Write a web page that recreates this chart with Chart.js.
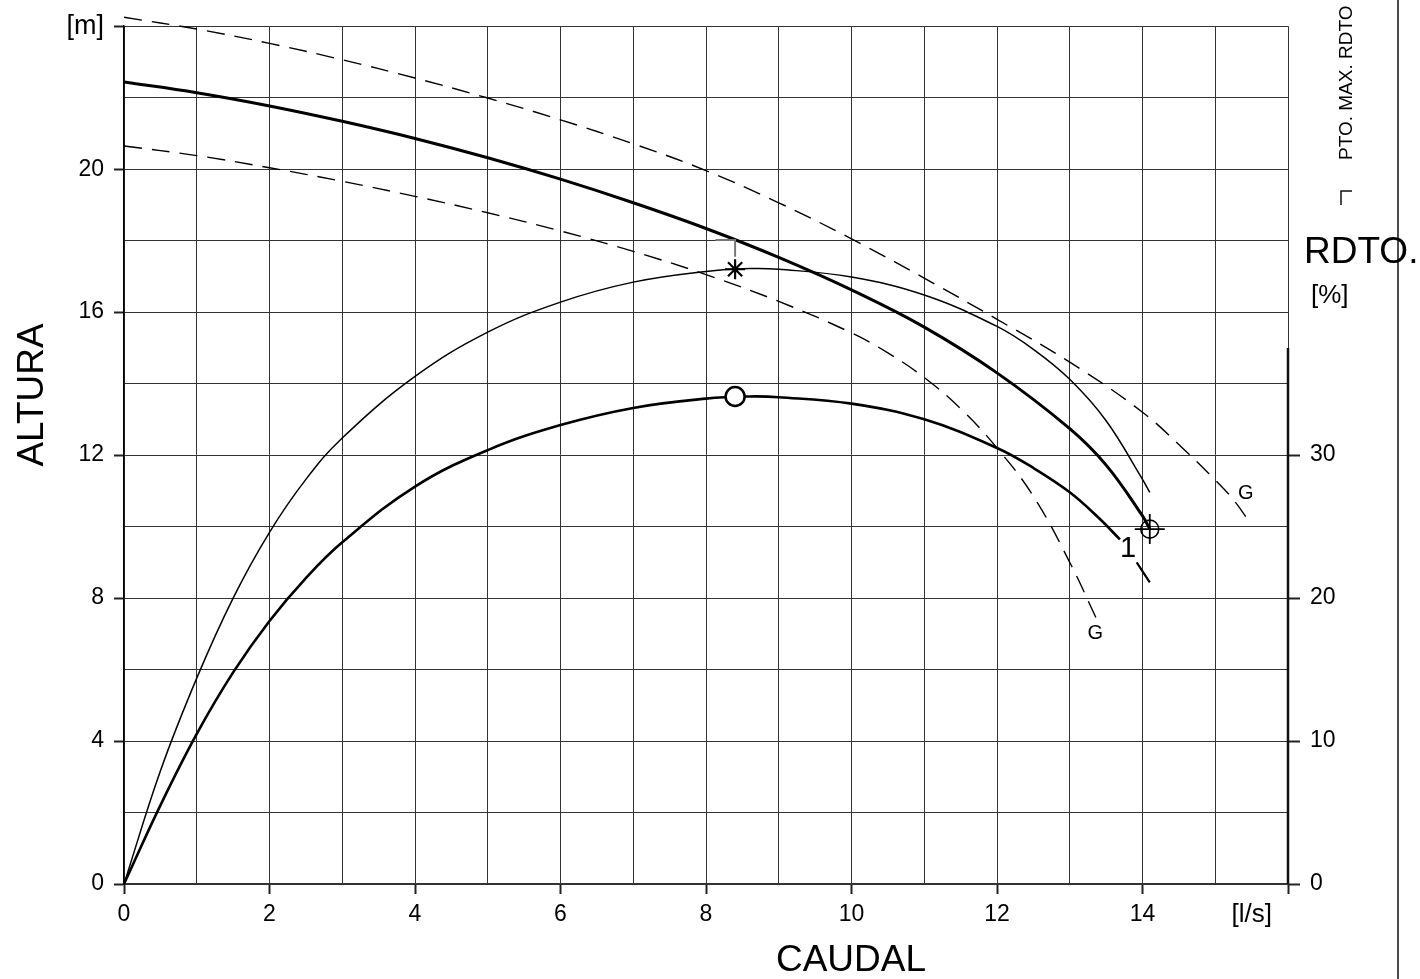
<!DOCTYPE html>
<html>
<head>
<meta charset="utf-8">
<title>Curva bomba</title>
<script src="https://cdn.jsdelivr.net/npm/chart.js@4.4.1/dist/chart.umd.min.js"></script>
<style>
  html, body { margin: 0; padding: 0; background: #fff; }
  canvas { display: block; }
</style>
</head>
<body>
<canvas id="curva" width="1420" height="979"></canvas>
<script>
// curva H-Q (caudal l/s -> altura m)
const qHead = [0, 1, 2, 3, 4, 5, 6, 7, 8, 9, 10, 11, 12, 13, 13.5, 14, 14.1];
const head = [22.44, 22.14, 21.77, 21.34, 20.86, 20.32, 19.72, 19.06, 18.34, 17.53, 16.62, 15.58, 14.3, 12.74, 11.72, 10.3, 9.93];

// rodete maximo (G, discontinua superior)
const qGmax = [0, 1, 2, 3, 4, 5, 6, 7, 8, 9, 10, 11, 12, 13, 14, 14.6, 15, 15.25, 15.48];
const hGmax = [24.25, 23.92, 23.52, 23.06, 22.55, 21.99, 21.38, 20.71, 19.96, 19.06, 18.05, 16.95, 15.8, 14.6, 13.2, 12.1, 11.3, 10.75, 10.1];

// rodete minimo (G, discontinua inferior)
const qGmin = [0, 1, 2, 3, 4, 5, 6, 7, 8, 9, 10, 10.5, 11, 11.5, 12, 12.5, 13, 13.39];
const hGmin = [20.65, 20.38, 20.04, 19.66, 19.24, 18.78, 18.27, 17.7, 17.05, 16.3, 15.42, 14.86, 14.17, 13.3, 12.2, 10.85, 9.0, 7.32];

// rendimiento [%] - curva fina
const qEffA = [0, 0.5, 1, 1.5, 2, 2.5, 3, 4, 5, 6, 7, 8, 8.6, 9, 10, 11, 12, 12.5, 13, 13.5, 14, 14.1];
const effA = [0, 7.9, 14.4, 20.0, 24.6, 28.3, 31.2, 35.5, 38.6, 40.7, 42.1, 42.85, 43.05, 43.0, 42.45, 41.2, 39.0, 37.4, 35.3, 32.4, 28.3, 27.4];

// rendimiento [%] - curva gruesa (1)
const qEffB = [0, 0.5, 1, 1.5, 2, 2.5, 3, 4, 5, 6, 7, 8, 8.6, 9, 10, 11, 12, 12.5, 13, 13.4, 13.69];
const effB = [0, 5.5, 10.5, 14.8, 18.4, 21.4, 23.9, 27.8, 30.35, 32.1, 33.3, 33.95, 34.1, 34.05, 33.6, 32.5, 30.5, 29.1, 27.4, 25.6, 24.1];
const qEffBTail = [13.92, 14.1];
const effBTail = [22.5, 21.1];

// puntos marcados
const ptoMaxRdto = { q: 8.4, eff: 43.0, effB: 34.1, head: 18.02, headLow: 17.55, qLeft: 8.13 };
const ptoFinal = { q: 14.1, head: 9.93 };

// rotulos de curva: [texto, caudal, altura m, tamano]
const curveLabels = [
  ["G", 15.42, 10.94, 20],
  ["G", 13.35, 7.0, 20],
  ["1", 13.8, 9.38, 29]
];

const FONT = "'Liberation Sans', Arial, Helvetica, sans-serif";
Chart.defaults.font.family = FONT;
Chart.defaults.color = "#000";

function pts(xs, ys) {
  return xs.map((v, i) => ({ x: v, y: ys[i] }));
}

function curve(label, xs, ys, axis, width, dash) {
  return {
    label: label,
    data: pts(xs, ys),
    yAxisID: axis,
    borderColor: "#000",
    borderWidth: width,
    borderDash: dash || [],
    pointRadius: 0,
    fill: false,
    tension: 0.4,
    clip: false
  };
}

const transparent = "rgba(0,0,0,0)";

// textos y marcas fuera del area de datos
const extras = {
  id: "extras",
  afterDraw(chart) {
    const ctx = chart.ctx;
    const sx = chart.scales.x, sy = chart.scales.y, sy2 = chart.scales.y2;
    const area = chart.chartArea;
    ctx.save();
    ctx.fillStyle = "#000";
    ctx.strokeStyle = "#111";

    // eje derecho de rendimiento (solo hasta 37.5 %)
    ctx.lineWidth = 2.5;
    ctx.beginPath();
    ctx.moveTo(area.right, sy2.getPixelForValue(0));
    ctx.lineTo(area.right, sy2.getPixelForValue(37.5));
    ctx.stroke();

    // linea vertical del margen derecho
    ctx.lineWidth = 1.5;
    ctx.beginPath();
    ctx.moveTo(chart.width - 22, 0);
    ctx.lineTo(chart.width - 22, chart.height);
    ctx.stroke();

    // titulos de ejes
    ctx.font = "37px " + FONT;
    ctx.textAlign = "center";
    ctx.textBaseline = "middle";
    ctx.fillText("CAUDAL", 851, 961);
    ctx.save();
    ctx.translate(33, 395);
    ctx.rotate(-Math.PI / 2);
    ctx.fillText("ALTURA", 0, 0);
    ctx.restore();

    ctx.textAlign = "left";
    ctx.fillText("RDTO.", area.right + 16, 253);
    ctx.font = "26px " + FONT;
    ctx.fillText("[%]", area.right + 23, 296);
    ctx.textAlign = "center";
    ctx.fillText("[l/s]", sx.getPixelForValue(15.5), 915);

    // leyenda vertical
    ctx.save();
    ctx.translate(1352, 160);
    ctx.rotate(-Math.PI / 2);
    ctx.font = "19px " + FONT;
    ctx.textAlign = "left";
    ctx.textBaseline = "alphabetic";
    ctx.fillText("PTO. MAX. RDTO", 0, 0);
    ctx.restore();
    ctx.lineWidth = 1.5;
    ctx.beginPath();
    ctx.moveTo(1341, 205);
    ctx.lineTo(1341, 191);
    ctx.lineTo(1352, 191);
    ctx.stroke();

    // rotulos de curvas
    for (const [txt, q, h, size] of curveLabels) {
      ctx.font = size + "px " + FONT;
      ctx.fillText(txt, sx.getPixelForValue(q), sy.getPixelForValue(h));
    }
    ctx.restore();
  }
};

new Chart(document.getElementById("curva"), {
  type: "line",
  data: {
    datasets: [
      {
        label: "pto max rdto",
        data: [{ x: ptoMaxRdto.q, y: ptoMaxRdto.eff }],
        yAxisID: "y2",
        showLine: false,
        pointStyle: "star",
        pointRadius: 10,
        borderColor: "#000",
        borderWidth: 2.2,
        backgroundColor: transparent
      },
      {
        label: "pto max rdto 1",
        data: [{ x: ptoMaxRdto.q, y: ptoMaxRdto.effB }],
        yAxisID: "y2",
        showLine: false,
        pointStyle: "circle",
        pointRadius: 9.5,
        borderColor: "#000",
        borderWidth: 2.5,
        backgroundColor: "#fff"
      },
      {
        label: "final circulo",
        data: [{ x: ptoFinal.q, y: ptoFinal.head }],
        yAxisID: "y",
        showLine: false,
        pointStyle: "circle",
        pointRadius: 9,
        borderColor: "#000",
        borderWidth: 1.6,
        backgroundColor: transparent
      },
      {
        label: "final cruz",
        data: [{ x: ptoFinal.q, y: ptoFinal.head }],
        yAxisID: "y",
        showLine: false,
        pointStyle: "cross",
        pointRadius: 15,
        borderColor: "#000",
        borderWidth: 1.8,
        backgroundColor: transparent
      },
      {
        label: "marca H",
        data: [
          { x: ptoMaxRdto.qLeft, y: ptoMaxRdto.head },
          { x: ptoMaxRdto.q, y: ptoMaxRdto.head },
          { x: ptoMaxRdto.q, y: ptoMaxRdto.headLow }
        ],
        yAxisID: "y",
        borderColor: "#777",
        borderWidth: 2,
        pointRadius: 0,
        tension: 0
      },
      curve("H-Q", qHead, head, "y", 3),
      curve("G max", qGmax, hGmax, "y", 1.4, [18, 10]),
      curve("G min", qGmin, hGmin, "y", 1.4, [18, 10]),
      curve("rdto", qEffA, effA, "y2", 1.5),
      curve("rdto 1", qEffB, effB, "y2", 2.6),
      curve("rdto 1b", qEffBTail, effBTail, "y2", 2.2)
    ]
  },
  options: {
    responsive: false,
    maintainAspectRatio: false,
    animation: false,
    devicePixelRatio: 1,
    layout: { padding: { top: 24, left: 0, right: 0, bottom: 0 } },
    plugins: {
      legend: { display: false },
      tooltip: { enabled: false }
    },
    scales: {
      x: {
        type: "linear",
        min: 0,
        max: 16,
        afterFit: (s) => { s.height = 95; },
        border: { color: "#333", width: 2 },
        grid: {
          color: "#333",
          lineWidth: 1,
          tickLength: 10,
          tickWidth: 2,
          tickColor: (c) => (c.tick && c.tick.value % 2 === 0 ? "#222" : transparent)
        },
        ticks: {
          stepSize: 1,
          autoSkip: false,
          maxRotation: 0,
          padding: 7,
          font: { size: 23 },
          callback: (v) => (v % 2 === 0 && v < 16 ? v : "")
        }
      },
      y: {
        type: "linear",
        position: "left",
        min: 0,
        max: 24,
        afterFit: (s) => { s.width = 124; },
        border: { color: "#000", width: 1.5 },
        grid: {
          color: "#333",
          lineWidth: 1,
          tickLength: 10,
          tickWidth: 2,
          tickColor: (c) => (c.tick && c.tick.value % 4 === 0 ? "#222" : transparent)
        },
        ticks: {
          stepSize: 2,
          autoSkip: false,
          padding: 10,
          font: (c) => ({ size: c.tick && c.tick.value === 24 ? 27 : 23 }),
          callback: (v) => (v === 24 ? "[m]" : v % 4 === 0 ? v : "")
        }
      },
      y2: {
        type: "linear",
        position: "right",
        min: 0,
        max: 60,
        afterFit: (s) => { s.width = 132; },
        border: { display: false },
        grid: {
          drawOnChartArea: false,
          tickLength: 12,
          tickWidth: 2,
          tickColor: (c) => (c.tick && c.tick.value <= 30 ? "#222" : transparent)
        },
        ticks: {
          stepSize: 10,
          autoSkip: false,
          padding: 10,
          font: { size: 23 },
          callback: (v) => (v <= 30 ? v : "")
        }
      }
    }
  },
  plugins: [extras]
});
</script>
</body>
</html>
